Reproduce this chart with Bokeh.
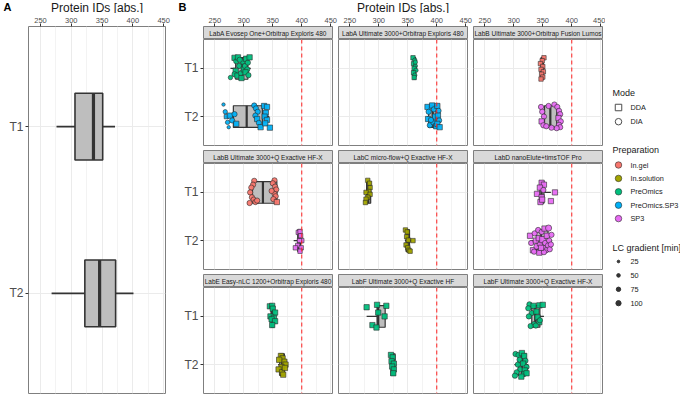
from bokeh.plotting import figure
from bokeh.layouts import row, column
from bokeh.models import Range1d, FixedTicker, Span, Label, ColumnDataSource
from bokeh.core.properties import value
from bokeh.embed import file_html
from bokeh.resources import INLINE

FONT = "Liberation Sans"

# ---------------------------------------------------------------- data
axis_ticks = [250, 300, 350, 400, 450]
time_levels = ["T1", "T2"]
threshold_ids = 400
axis_title = "Protein IDs [abs.]"
panel_tags = ["A", "B"]

# Panel A: boxplot over all labs
a_time = ["T1", "T2"]
a_lo = [276, 268]
a_q1 = [306, 322]
a_med = [336, 346]
a_q3 = [351, 372]
a_hi = [371, 401]

labs = [
    "LabA Evosep One+Orbitrap Exploris 480",
    "LabA Ultimate 3000+Orbitrap Exploris 480",
    "LabB Ultimate 3000+Orbitrap Fusion Lumos",
    "LabB Ultimate 3000+Q Exactive HF-X",
    "LabC micro-flow+Q Exactive HF-X",
    "LabD nanoElute+timsTOF Pro",
    "LabE Easy-nLC 1200+Orbitrap Exploris 480",
    "LabF Ultimate 3000+Q Exactive HF",
    "LabF Ultimate 3000+Q Exactive HF-X",
]

preparations = ["In.gel", "In.solution", "PreOmics", "PreOmics.SP3", "SP3"]
prep_colors = ["#F8766D", "#A3A500", "#00BF7D", "#00B0F6", "#E76BF3"]
modes = ["DDA", "DIA"]
lc_levels = [25, 50, 75, 100]

# preparation of each lab (T1, T2)
prep_T1 = ["PreOmics", "PreOmics", "In.gel", "In.gel", "In.solution", "SP3", "PreOmics", "PreOmics", "PreOmics"]
prep_T2 = ["PreOmics.SP3", "PreOmics.SP3", "SP3", "SP3", "In.solution", "SP3", "In.solution", "PreOmics", "PreOmics"]

# box statistics per lab: T1 then T2
box_lo_T1 = [277, 358, 345, 310, 275, 340, 345, 279, 325]
box_q1_T1 = [286, 360, 347, 315, 279, 345, 347, 297, 331]
box_med_T1 = [297, 362, 349, 333, 282, 348, 349, 299, 337]
box_q3_T1 = [307, 363.5, 351, 357, 286, 352, 352, 311, 345]
box_hi_T1 = [312, 365, 354, 358, 288, 364, 356, 313, 352]
box_lo_T2 = [268, 383, 347, 386, 345, 329, 359, 320, 301]
box_q1_T2 = [282, 386, 353, 393, 347, 339, 362, 321, 308]
box_med_T2 = [305, 393, 363, 396, 350, 347, 366, 324, 314]
box_q3_T2 = [332, 399, 374, 398, 353, 359, 370, 328, 321]
box_hi_T2 = [344, 406, 381, 401, 356, 366, 375, 330, 325]

# replicate points: (protein IDs, vertical jitter, mode S=DDA/C=DIA, LC gradient)
pts_0_T1 = [(277, 0.19, "C", 50), (284, -0.22, "S", 75), (287, -0.15, "C", 75), (290, -0.23, "S", 75),
            (292, -0.05, "C", 75), (286, 0.05, "S", 75), (284, 0.12, "C", 75), (289, 0.15, "S", 75),
            (295, 0.10, "C", 75), (298, -0.14, "C", 75), (300, 0.02, "S", 75), (302, -0.05, "C", 75),
            (304, -0.20, "S", 75), (307, -0.12, "C", 75), (310, -0.23, "S", 75), (306, 0.02, "C", 75),
            (303, 0.08, "S", 75), (308, 0.14, "C", 75), (296, 0.20, "S", 75), (293, -0.18, "C", 75)]
pts_0_T2 = [(265, -0.25, "C", 25), (268, -0.10, "C", 50), (270, 0.00, "S", 50), (272, 0.12, "C", 50),
            (274, 0.22, "C", 25), (276, -0.02, "S", 75), (280, 0.08, "C", 75), (284, -0.05, "C", 75),
            (287, 0.15, "S", 75), (318, -0.23, "C", 75), (321, -0.17, "C", 75), (324, -0.10, "C", 75),
            (320, -0.02, "C", 75), (323, 0.05, "S", 75), (326, 0.13, "C", 75), (329, 0.22, "S", 75),
            (335, -0.22, "S", 75), (340, -0.20, "S", 75), (338, -0.08, "S", 75), (336, 0.00, "S", 75),
            (340, 0.07, "S", 75), (337, 0.14, "S", 75), (345, 0.23, "S", 75)]
pts_1_T1 = [(359, -0.22, "S", 50), (362, -0.17, "C", 50), (360, -0.10, "S", 50), (363, -0.05, "C", 50),
            (361, 0.00, "S", 50), (364, 0.04, "C", 50), (360, 0.09, "S", 50), (362, 0.14, "C", 50),
            (361, 0.19, "S", 50), (363, -0.13, "C", 50)]
pts_1_T2 = [(384, -0.20, "S", 75), (386, -0.10, "C", 75), (385, 0.05, "S", 75), (388, 0.18, "C", 75),
            (392, -0.23, "S", 75), (395, -0.15, "C", 75), (397, 0.00, "S", 75), (394, 0.12, "C", 75),
            (399, 0.20, "S", 75), (401, -0.22, "S", 75), (403, -0.12, "C", 75), (402, -0.02, "S", 75),
            (404, 0.08, "C", 75), (401, 0.15, "S", 75), (405, 0.22, "S", 75), (390, 0.07, "C", 75)]
pts_2_T1 = [(352, -0.22, "S", 50), (349, -0.16, "S", 50), (346, -0.10, "S", 50), (350, -0.04, "S", 50),
            (347, 0.02, "S", 50), (351, 0.07, "S", 50), (348, 0.12, "S", 50), (350, 0.18, "S", 50),
            (347, 0.22, "S", 50)]
pts_2_T2 = [(347, -0.20, "C", 75), (349, -0.10, "C", 75), (352, 0.00, "C", 75), (348, 0.10, "S", 75),
            (351, 0.18, "C", 75), (370, -0.25, "C", 75), (375, -0.20, "C", 75), (378, -0.12, "C", 75),
            (380, -0.05, "C", 75), (377, 0.03, "S", 75), (381, 0.10, "C", 75), (378, 0.17, "C", 75),
            (380, 0.22, "C", 75), (374, 0.24, "C", 75), (360, -0.22, "C", 75), (365, 0.23, "C", 75),
            (356, 0.20, "C", 75)]
pts_3_T1 = [(318, -0.24, "C", 75), (316, -0.16, "C", 75), (313, -0.10, "C", 75), (311, 0.00, "C", 75),
            (314, 0.10, "C", 75), (317, 0.15, "C", 75), (320, 0.20, "C", 75), (310, 0.22, "C", 75),
            (323, 0.17, "C", 75), (353, -0.25, "C", 75), (350, -0.19, "C", 75), (354, -0.12, "C", 75),
            (356, -0.06, "C", 75), (353, 0.03, "C", 75), (355, 0.08, "C", 75), (351, 0.14, "C", 75),
            (357, 0.20, "S", 75), (348, -0.03, "C", 75)]
pts_3_T2 = [(394, -0.17, "S", 50), (397, -0.19, "S", 50), (398, -0.10, "S", 50), (400, 0.00, "S", 50),
            (396, 0.00, "S", 50), (393, 0.10, "S", 50), (399, 0.15, "S", 50), (397, 0.22, "S", 50),
            (389, 0.15, "S", 50)]
pts_4_T1 = [(281, -0.25, "S", 50), (284, -0.19, "S", 50), (285, -0.10, "S", 50), (283, -0.02, "S", 50),
            (278, 0.00, "S", 50), (285, 0.04, "S", 50), (281, 0.10, "S", 50), (278, 0.14, "S", 50),
            (277, 0.21, "S", 50)]
pts_4_T2 = [(346, -0.22, "S", 50), (349, -0.18, "S", 50), (348, -0.08, "S", 50), (351, -0.01, "S", 50),
            (359, 0.00, "S", 50), (347, 0.09, "S", 50), (350, 0.15, "S", 50), (352, 0.20, "S", 50),
            (354, 0.22, "S", 50)]
pts_5_T1 = [(348, -0.20, "S", 75), (352, -0.16, "S", 75), (345, -0.10, "S", 75), (340, 0.03, "S", 75),
            (348, 0.10, "S", 75), (346, 0.20, "S", 75), (371, 0.00, "S", 75), (364, 0.18, "S", 75),
            (351, -0.05, "C", 75), (349, 0.15, "S", 75)]
pts_5_T2 = [(328, -0.10, "S", 75), (330, 0.05, "C", 75), (333, 0.20, "S", 75), (336, -0.15, "C", 75),
            (338, 0.00, "S", 75), (340, 0.12, "C", 100), (342, -0.22, "C", 75), (343, -0.05, "S", 75),
            (345, 0.08, "C", 75), (346, 0.22, "S", 75), (348, -0.18, "C", 75), (350, -0.02, "S", 100),
            (351, 0.15, "C", 75), (353, -0.25, "S", 75), (354, 0.05, "C", 75), (356, 0.20, "C", 75),
            (357, -0.10, "S", 75), (359, 0.10, "C", 75), (360, -0.26, "C", 100), (361, 0.00, "C", 75),
            (362, 0.18, "C", 75), (364, 0.08, "C", 75), (365, -0.12, "C", 75), (344, 0.25, "S", 75),
            (335, 0.23, "C", 75), (352, 0.24, "C", 75), (347, 0.15, "S", 75)]
pts_6_T1 = [(345, -0.21, "S", 75), (349, -0.22, "S", 75), (350, -0.16, "S", 75), (354, -0.08, "S", 75),
            (346, 0.00, "S", 75), (352, 0.03, "S", 75), (348, 0.06, "S", 75), (354, 0.10, "S", 75),
            (349, 0.18, "S", 75)]
pts_6_T2 = [(364, -0.18, "S", 75), (367, -0.13, "S", 75), (370, -0.06, "S", 75), (361, -0.10, "S", 75),
            (372, 0.00, "S", 75), (365, 0.05, "S", 75), (360, 0.10, "S", 75), (366, 0.16, "S", 75),
            (368, 0.21, "S", 75), (371, 0.07, "S", 75)]
pts_7_T1 = [(279, -0.19, "S", 75), (297, -0.24, "S", 75), (313, -0.22, "S", 75), (299, -0.08, "S", 75),
            (310, 0.00, "S", 75), (289, 0.18, "S", 75), (296, 0.23, "S", 75)]
pts_7_T2 = [(321, -0.20, "S", 75), (324, -0.15, "S", 75), (322, -0.07, "S", 75), (326, -0.02, "S", 75),
            (323, 0.04, "S", 75), (326, 0.10, "S", 75), (325, 0.18, "S", 75)]
pts_8_T1 = [(327, -0.25, "C", 75), (334, -0.22, "S", 75), (344, -0.23, "S", 75), (350, -0.24, "S", 75),
            (325, -0.17, "C", 75), (331, -0.07, "C", 75), (339, -0.10, "S", 75), (326, 0.00, "C", 75),
            (341, 0.02, "S", 75), (344, 0.12, "S", 75), (335, 0.16, "C", 75), (329, 0.20, "C", 75),
            (338, 0.19, "C", 75), (345, 0.08, "C", 75)]
pts_8_T2 = [(303, -0.22, "C", 75), (308, -0.20, "C", 75), (314, -0.24, "S", 75), (318, -0.18, "S", 75),
            (310, -0.10, "C", 75), (320, -0.08, "C", 75), (307, 0.00, "C", 75), (316, -0.02, "S", 75),
            (322, 0.05, "C", 75), (311, 0.10, "C", 75), (319, 0.12, "S", 75), (305, 0.16, "C", 75),
            (317, 0.20, "C", 75), (322, 0.18, "S", 75), (302, 0.23, "C", 75), (313, 0.25, "S", 75)]

points_T1 = [pts_0_T1, pts_1_T1, pts_2_T1, pts_3_T1, pts_4_T1, pts_5_T1, pts_6_T1, pts_7_T1, pts_8_T1]
points_T2 = [pts_0_T2, pts_1_T2, pts_2_T2, pts_3_T2, pts_4_T2, pts_5_T2, pts_6_T2, pts_7_T2, pts_8_T2]

# ---------------------------------------------------------------- styling / layout constants
X_LO, X_HI = 230.5, 453.0
Y_TOP, Y_BOT = 0.4, 2.6
minor_ticks = [275, 325, 375, 425]
tpos = {t: i + 1 for i, t in enumerate(time_levels)}
color_map = dict(zip(preparations, prep_colors))
marker_map = {"S": "square", "C": "circle"}
size_map = {25: 3.4, 50: 4.4, 75: 5.3, 100: 6.2}
legend_size = {25: 2.6, 50: 3.6, 75: 4.4, 100: 5.2}

BOX_FILL = "#BEBEBE"
BOX_LINE = "#333333"
BORDER = "#7F7F7F"
GRID = "#EBEBEB"
GRID_MINOR = "#F3F3F3"

TOTAL_W, TOTAL_H = 680, 397
HEAD_H = 13           # header row with panel tags and axis titles
AX_B = 13             # top border holding the tick labels
STRIP_H = 13
FRAME_H = 106
GAP = 5
FRAME_W = 129
BODY_H = TOTAL_H - HEAD_H
BOT_B = BODY_H - AX_B - (3 * STRIP_H + 3 * FRAME_H + 2 * GAP)
A_W, A_L, A_R = 178, 28, 13
col_left = [25, 0, 0]
col_right = [6, 6, 3]
xr = Range1d(X_LO, X_HI)


def base_fig(w, h, left, right, top, bottom, xloc=None, yloc=None, yr=None, x_range=None):
    p = figure(width=w, height=h, x_range=x_range if x_range is not None else xr,
               y_range=yr if yr is not None else Range1d(Y_BOT, Y_TOP),
               x_axis_location=xloc, y_axis_location=yloc,
               min_border_left=left, min_border_right=right, min_border_top=top, min_border_bottom=bottom,
               output_backend="svg", toolbar_location=None)
    p.border_fill_color = "white"
    p.background_fill_color = "white"
    p.outline_line_color = BORDER
    p.outline_line_width = 1
    return p


def style_grid(p):
    p.xgrid.ticker = FixedTicker(ticks=axis_ticks, minor_ticks=minor_ticks)
    p.xgrid.grid_line_color = GRID
    p.xgrid.grid_line_width = 1
    p.xgrid.minor_grid_line_color = GRID_MINOR
    p.ygrid.ticker = FixedTicker(ticks=[tpos[t] for t in time_levels])
    p.ygrid.grid_line_color = GRID
    p.ygrid.grid_line_width = 1


def style_xaxis(ax):
    ax.ticker = FixedTicker(ticks=axis_ticks)
    ax.major_label_text_font = FONT
    ax.major_label_text_font_size = "7.5px"
    ax.major_label_text_color = "#4D4D4D"
    ax.major_tick_line_color = "#333333"
    ax.major_tick_out = 3
    ax.major_tick_in = 0
    ax.minor_tick_line_color = None
    ax.axis_line_color = None
    ax.major_label_standoff = 1


def style_yaxis(ax):
    ax.ticker = FixedTicker(ticks=[tpos[t] for t in time_levels])
    ax.major_label_overrides = {tpos[t]: t for t in time_levels}
    ax.major_label_text_font = FONT
    ax.major_label_text_font_size = "12px"
    ax.major_label_text_color = "#4D4D4D"
    ax.major_tick_line_color = "#333333"
    ax.major_tick_out = 3
    ax.major_tick_in = 0
    ax.minor_tick_line_color = None
    ax.axis_line_color = None
    ax.major_label_standoff = 2


def draw_boxes(p, times, lo, q1, med, q3, hi, width, lw, mlw):
    ys = [tpos[t] for t in times]
    src = ColumnDataSource(dict(y=ys, lo=lo, q1=q1, med=med, q3=q3, hi=hi,
                                y0=[y - width / 2 for y in ys], y1=[y + width / 2 for y in ys]))
    p.segment(x0="lo", y0="y", x1="q1", y1="y", source=src, line_color=BOX_LINE, line_width=lw)
    p.segment(x0="q3", y0="y", x1="hi", y1="y", source=src, line_color=BOX_LINE, line_width=lw)
    p.hbar(y="y", left="q1", right="q3", height=width, source=src,
           fill_color=BOX_FILL, line_color=BOX_LINE, line_width=lw)
    p.segment(x0="med", y0="y0", x1="med", y1="y1", source=src, line_color=BOX_LINE, line_width=mlw)


# ---------------------------------------------------------------- header (panel tags + axis titles)
head = figure(width=TOTAL_W, height=HEAD_H, x_range=Range1d(0, TOTAL_W), y_range=Range1d(HEAD_H, 0),
              x_axis_location=None, y_axis_location=None, min_border_left=0, min_border_right=0,
              min_border_top=0, min_border_bottom=0, output_backend="svg", toolbar_location=None)
head.grid.visible = False
head.outline_line_color = None
head.border_fill_color = "white"
head.background_fill_color = "white"
b_left = A_W + col_left[0]
b_right = A_W + sum(col_left[k] + FRAME_W + col_right[k] for k in range(3)) - col_right[2]
head.text(x=[3, A_W], y=[HEAD_H / 2] * 2, text=panel_tags, text_font=value(FONT), text_font_size="11px",
          text_font_style="bold", text_baseline="middle", text_color="black")
head.text(x=[(A_L + A_W - A_R) / 2, (b_left + b_right) / 2], y=[HEAD_H / 2 + 0.5] * 2,
          text=[axis_title, axis_title], text_font=value(FONT), text_font_size="12px",
          text_align="center", text_baseline="middle", text_color="#1A1A1A")

# ---------------------------------------------------------------- panel A
pa = base_fig(A_W, BODY_H, A_L, A_R, AX_B, BOT_B, xloc="above", yloc="left")
style_grid(pa)
style_xaxis(pa.xaxis[0])
style_yaxis(pa.yaxis[0])
draw_boxes(pa, a_time, a_lo, a_q1, a_med, a_q3, a_hi, 0.4, 1.6, 3.2)

# ---------------------------------------------------------------- panel B facets
columns = [[], [], []]
for i, lab in enumerate(labs):
    r, c = divmod(i, 3)
    L, R = col_left[c], col_right[c]
    W = L + FRAME_W + R
    top = AX_B if r == 0 else 0
    s = base_fig(W, top + STRIP_H, L, R, top, 0, xloc="above" if r == 0 else None, yr=Range1d(0, 1))
    s.background_fill_color = "#D9D9D9"
    s.grid.visible = False
    if r == 0:
        style_xaxis(s.xaxis[0])
    s.add_layout(Label(x=(X_LO + X_HI) / 2, y=0.5, text=lab, text_font=FONT, text_font_size="6.5px",
                       text_align="center", text_baseline="middle", text_color="#1A1A1A"))
    columns[c].append(s)

    bottom = GAP if r < 2 else BOT_B
    p = base_fig(W, FRAME_H + bottom, L, R, 0, bottom, yloc="left" if c == 0 else None)
    style_grid(p)
    if c == 0:
        style_yaxis(p.yaxis[0])
    p.add_layout(Span(location=threshold_ids, dimension="height", line_color="#FF2020",
                      line_width=1, line_dash="4 3"))
    draw_boxes(p, time_levels,
               [box_lo_T1[i], box_lo_T2[i]], [box_q1_T1[i], box_q1_T2[i]],
               [box_med_T1[i], box_med_T2[i]], [box_q3_T1[i], box_q3_T2[i]],
               [box_hi_T1[i], box_hi_T2[i]], 0.45, 1.2, 2.2)
    for t, pts, prep in (("T1", points_T1[i], prep_T1[i]), ("T2", points_T2[i], prep_T2[i])):
        src = ColumnDataSource(dict(
            x=[q[0] for q in pts],
            y=[tpos[t] + q[1] for q in pts],
            marker=[marker_map[q[2]] for q in pts],
            size=[size_map[q[3]] for q in pts],
        ))
        p.scatter("x", "y", source=src, marker="marker", size="size",
                  fill_color=color_map[prep], fill_alpha=0.95, line_color="#2B2B2B", line_width=0.6)
    columns[c].append(p)

# ---------------------------------------------------------------- legend (coordinates = page pixels)
LG_W = TOTAL_W - A_W - sum(col_left[k] + FRAME_W + col_right[k] for k in range(3))
lg = figure(width=LG_W, height=BODY_H, x_range=Range1d(0, LG_W),
            y_range=Range1d(TOTAL_H - BOT_B, HEAD_H + AX_B),
            x_axis_location=None, y_axis_location=None, min_border_left=0, min_border_right=0,
            min_border_top=AX_B, min_border_bottom=BOT_B, output_backend="svg", toolbar_location=None)
lg.grid.visible = False
lg.outline_line_color = None
lg.border_fill_color = "white"
lg.background_fill_color = "white"

KX, TX, HX = 13, 25, 7
TITLE_FS, LAB_FS = "9px", "7.3px"


def legend_title(y, text):
    lg.text(x=[HX], y=[y], text=[text], text_font=value(FONT), text_font_size=TITLE_FS,
            text_baseline="middle", text_color="#1A1A1A")


def legend_labels(ys, texts):
    lg.text(x=[TX] * len(ys), y=ys, text=texts, text_font=value(FONT), text_font_size=LAB_FS,
            text_baseline="middle", text_color="#1A1A1A")


legend_title(92.5, "Mode")
mode_y = [107 + 14.2 * k for k in range(len(modes))]
lg.scatter(x=[KX] * len(modes), y=mode_y, marker=["square", "circle"], size=6.5,
           fill_color="white", line_color="#4D4D4D", line_width=1)
legend_labels(mode_y, modes)

legend_title(149.5, "Preparation")
prep_y = [164.5 + 13.4 * k for k in range(len(preparations))]
lg.scatter(x=[KX] * len(preparations), y=prep_y, marker="circle", size=6.5,
           fill_color=prep_colors, line_color="#2B2B2B", line_width=0.6)
legend_labels(prep_y, preparations)

legend_title(247.5, "LC gradient [min]")
lc_y = [261 + 13.9 * k for k in range(len(lc_levels))]
lg.scatter(x=[KX] * len(lc_levels), y=lc_y, marker="circle", size=[legend_size[v] for v in lc_levels],
           fill_color="#333333", line_color="#333333")
legend_labels(lc_y, [str(v) for v in lc_levels])

body = row(pa, column(*columns[0]), column(*columns[1]), column(*columns[2]), lg)
layout = column(head, body)

open("out.html", "w").write(file_html(layout, INLINE))
